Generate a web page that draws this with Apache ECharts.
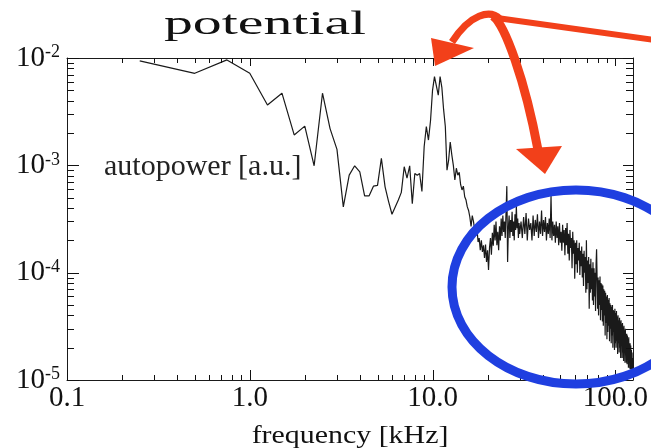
<!DOCTYPE html>
<html><head><meta charset="utf-8">
<script src="https://cdn.jsdelivr.net/npm/echarts/dist/echarts.min.js"></script>
<style>html,body{margin:0;padding:0;background:#fff}#c{width:651px;height:448px}</style>
</head><body><div id="c"></div>
<script>
// frequency [kHz] and autopower [a.u.]
const freqA = [0.25,0.5,0.75,1.0,1.25,1.5,1.75,2.0,2.25,2.5,2.75,3.0,3.25,3.5,3.75,4.0,4.25,4.5,4.75,5.0,
  5.25,5.5,5.75,6.0,6.25,6.5,6.75,7.0,7.25,7.5,7.75,8.0,8.25,8.5,8.75,9.0,9.25,9.5,9.75,10.0];
const powerA = [9.4e-3,7.2e-3,9.6e-3,7.2e-3,3.65e-3,4.7e-3,1.92e-3,2.32e-3,9.9e-4,4.7e-3,2.2e-3,1.41e-3,4.1e-4,8.1e-4,9.9e-4,8.7e-4,5.2e-4,5.2e-4,6.4e-4,6.5e-4,
  1.16e-3,6.3e-4,4.6e-4,3.5e-4,4.1e-4,4.75e-4,5.6e-4,9.7e-4,7.6e-4,9.9e-4,4.4e-4,8.4e-4,8.1e-4,8.4e-4,5.7e-4,1.49e-3,2.3e-3,1.72e-3,2.6e-3,5.0e-3];
const freqB = [10.25,10.5,10.75,11.0,11.25,11.5,11.75,12.0,12.25,12.5,12.75,13.0,13.25,13.5,13.75,14.0,14.25,14.5,14.75,15.0,
  15.25,15.5,15.75,16.0,16.25,16.5,16.75,17.0,17.25,17.5,17.75,18.0,18.25,18.5,18.75,19.0,19.25,19.5,19.75,20.0,
  20.25,20.5,20.75,21.0,21.25,21.5,21.75,22.0,22.25,22.5,22.75,23.0,23.25,23.5,23.75,24.0,24.25,24.5,24.75,25.0,
  25.25,25.5,25.75,26.0,26.25,26.5,26.75,27.0,27.25,27.5,27.75,28.0,28.25,28.5,28.75,29.0,29.25,29.5,29.75,30.0];
const powerB = [6.7e-3,6.9e-3,4.5e-3,6.7e-3,5.3e-3,3.3e-3,2.3e-3,9.0e-4,1.12e-3,1.65e-3,1.25e-3,1.0e-3,7.3e-4,9.4e-4,8.1e-4,8.6e-4,6.6e-4,5.9e-4,6.4e-4,5.1e-4,
  4.75e-4,4.1e-4,3.8e-4,3.3e-4,2.7e-4,3.4e-4,3.0e-4,2.5e-4,2.2e-4,2.6e-4,1.93e-4,2.1e-4,1.62e-4,2.0e-4,1.56e-4,1.8e-4,1.37e-4,1.83e-4,1.26e-4,1.62e-4,
  1.06e-4,1.7e-4,2.1e-4,1.47e-4,2.35e-4,1.78e-4,2.8e-4,2.0e-4,3.0e-4,1.8e-4,2.4e-4,1.62e-4,2.7e-4,2.0e-4,3.2e-4,2.2e-4,3.4e-4,2.4e-4,3.0e-4,2.1e-4,
  3.7e-4,6.4e-4,1.26e-4,2.6e-4,3.4e-4,2.1e-4,3.1e-4,2.4e-4,3.7e-4,2.2e-4,3.0e-4,2.0e-4,3.5e-4,2.5e-4,4.2e-4,2.6e-4,3.2e-4,2.1e-4,2.9e-4,2.3e-4];
const freqC = [30.5,31,31.5,32,32.5,33,33.5,34,34.5,35,35.5,36,36.5,37,37.5,38,38.5,39,39.5,40,
  40.5,41,41.5,42,42.5,43,43.5,44,44.5,45,45.5,46,46.5,47,47.5,48,48.5,49,49.5,50];
const powerC = [3.0e-4,2.1e-4,3.3e-4,2.3e-4,3.6e-4,2.0e-4,3.2e-4,2.5e-4,2.9e-4,2.0e-4,3.4e-4,2.2e-4,3.1e-4,2.4e-4,3.5e-4,2.1e-4,3.0e-4,2.3e-4,3.8e-4,2.2e-4,
  3.1e-4,2.4e-4,3.3e-4,2.0e-4,2.9e-4,2.3e-4,3.2e-4,2.1e-4,5.2e-4,2.0e-4,3.0e-4,2.2e-4,2.8e-4,1.9e-4,3.0e-4,2.1e-4,2.7e-4,1.8e-4,2.9e-4,1.9e-4];
const freqD = [50.5,51,51.5,52,52.5,53,53.5,54,54.5,55, 55.5,56,56.5,57,57.5,58,58.5,59,59.5,60,
  60.5,61,61.5,62,62.5,63,63.5,64,64.5,65, 65.5,66,66.5,67,67.5,68,68.5,69,69.5,70,
  70.5,71,71.5,72,72.5,73,73.5,74,74.5,75, 75.5,76,76.5,77,77.5,78,78.5,79,79.5,80,
  80.5,81,81.5,82,82.5,83,83.5,84,84.5,85, 85.5,86,86.5,87,87.5,88,88.5,89,89.5,90,
  90.5,91,91.5,92,92.5,93,93.5,94,94.5,95, 95.5,96,96.5,97,97.5,98,98.5,99,99.5,100,
  100.5,101,101.5,102,102.5,103,103.5,104,104.5,105, 105.5,106,106.5,107,107.5,108,108.5,109,109.5,110,
  110.5,111,111.5,112,112.5,113,113.5,114,114.5,115, 115.5,116,116.5,117,117.5,118,118.5,119,119.5,120,
  120.5,121,121.5,122,122.5,123,123.5,124,124.5,125];
const powerD = [2.4e-4,1.6e-4,2.8e-4,1.9e-4,2.5e-4,1.45e-4,2.6e-4,1.8e-4,2.9e-4,1.5e-4, 2.3e-4,1.3e-4,2.5e-4,1.7e-4,2.1e-4,1.1e-4,2.4e-4,1.5e-4,2.0e-4,8.8e-5,
  1.9e-4,1.2e-4,2.0e-4,1.0e-4,1.7e-4,1.3e-4,1.9e-4,9.5e-5,1.6e-4,1.15e-4, 1.75e-4,9.0e-5,1.5e-4,7.5e-5,1.6e-4,1.0e-4,1.4e-4,6.5e-5,2.0e-4,7.0e-5,
  1.3e-4,8.0e-5,1.4e-4,4.6e-5,1.2e-4,6.5e-5,1.35e-4,7.0e-5,1.1e-4,5.5e-5, 1.25e-4,5.0e-5,1.1e-4,6.0e-5,1.0e-4,4.4e-5,1.2e-4,1.65e-4,9.0e-5,4.6e-5,
  9.0e-5,4.0e-5,8.5e-5,5.0e-5,9.2e-5,3.6e-5,8.0e-5,4.5e-5,7.8e-5,3.5e-5, 7.6e-5,3.2e-5,7.0e-5,4.0e-5,6.8e-5,2.6e-5,6.5e-5,3.4e-5,6.0e-5,2.4e-5,
  6.2e-5,2.8e-5,5.6e-5,3.2e-5,5.8e-5,2.3e-5,5.2e-5,3.0e-5,5.0e-5,2.2e-5, 4.8e-5,2.6e-5,5.0e-5,2.0e-5,4.5e-5,2.8e-5,4.4e-5,1.9e-5,4.6e-5,2.2e-5,
  4.2e-5,2.0e-5,4.4e-5,2.3e-5,3.9e-5,1.75e-5,4.0e-5,2.2e-5,3.6e-5,1.8e-5, 3.8e-5,2.0e-5,3.5e-5,1.6e-5,3.6e-5,2.1e-5,3.3e-5,1.6e-5,3.4e-5,1.8e-5,
  3.1e-5,1.5e-5,3.2e-5,1.8e-5,2.9e-5,1.45e-5,3.0e-5,1.7e-5,2.7e-5,1.45e-5, 2.7e-5,1.4e-5,2.6e-5,1.55e-5,2.4e-5,1.3e-5,2.5e-5,1.45e-5,2.2e-5,1.28e-5,
  2.2e-5,1.25e-5,2.1e-5,1.35e-5,1.9e-5,1.2e-5,1.8e-5,1.15e-5,1.6e-5,1.25e-5];

// axis ranges and tick values
const xMin = 0.1, xMax = 125, yMin = 1e-5, yMax = 1e-2;
const xMajorTicks = [0.1, 1, 10, 100];
const yMajorTicks = [1e-5, 1e-4, 1e-3, 1e-2];
const xMinorTicks = [0.2,0.3,0.4,0.5,0.6,0.7,0.8,0.9,2,3,4,5,6,7,8,9,20,30,40,50,60,70,80,90];
const yMinorTicks = [2e-5,3e-5,4e-5,5e-5,6e-5,7e-5,8e-5,9e-5,2e-4,3e-4,4e-4,5e-4,6e-4,7e-4,8e-4,9e-4,2e-3,3e-3,4e-3,5e-3,6e-3,7e-3,8e-3,9e-3];

const freq = freqA.concat(freqB, freqC, freqD);
const power = powerA.concat(powerB, powerC, powerD);
const lineData = freq.map((f, i) => [f, power[i]]);

const FONT = '"Liberation Serif", "Times New Roman", serif';
const INK = '#1a1a1a';
const RED = '#f2401a';

function isDecade(v) { const e = Math.log10(v); return Math.abs(e - Math.round(e)) < 1e-6; }

const annotations = [
  {type: 'text', x: 265, y: 25, scaleX: 1.7, z: 100,
    style: {text: 'potential', fontFamily: FONT, fontSize: 34, fill: '#111', align: 'center', verticalAlign: 'middle', textAlign: 'center', textVerticalAlign: 'middle'}},
  {type: 'text', x: 104, y: 167, z: 100,
    style: {text: 'autopower [a.u.]', fontFamily: FONT, fontSize: 30, fill: '#222', align: 'left', verticalAlign: 'middle', textAlign: 'left', textVerticalAlign: 'middle'}},
  {type: 'text', x: 350, y: 436, scaleX: 1.15, z: 100,
    style: {text: 'frequency [kHz]', fontFamily: FONT, fontSize: 26, fill: '#111', align: 'center', verticalAlign: 'middle', textAlign: 'center', textVerticalAlign: 'middle'}},
  {type: 'ellipse', z: 100, shape: {cx: 576, cy: 287, rx: 124, ry: 97},
    style: {fill: 'none', stroke: '#1f3fe0', lineWidth: 9}},
  {type: 'polyline', z: 101, shape: {points: [[655, 40], [497, 18]]},
    style: {stroke: RED, lineWidth: 6, fill: 'none'}},
  {type: 'bezierCurve', z: 101, shape: {x1: 500, y1: 19, cpx1: 490, cpy1: 9, cpx2: 470, cpy2: 14, x2: 452, y2: 42},
    style: {stroke: RED, lineWidth: 7, fill: 'none'}},
  {type: 'bezierCurve', z: 101, shape: {x1: 493, y1: 16, cpx1: 505, cpy1: 25, cpx2: 525, cpy2: 80, x2: 538, y2: 150},
    style: {stroke: RED, lineWidth: 9, fill: 'none'}},
  {type: 'polygon', z: 101, shape: {points: [[431, 38], [474, 48], [435, 66]]}, style: {fill: RED}},
  {type: 'polygon', z: 101, shape: {points: [[516, 149], [562, 146], [545, 174]]}, style: {fill: RED}}
];

const chart = echarts.init(document.getElementById('c'), null, {renderer: 'canvas'});
chart.setOption({
  animation: false,
  backgroundColor: '#fff',
  grid: {left: 67, right: 18, top: 58, bottom: 68, show: false, containLabel: false, outerBoundsMode: 'none'},
  xAxis: [{
    type: 'log', logBase: 10, min: xMin, max: xMax, position: 'bottom',
    axisLine: {show: true, lineStyle: {color: INK, width: 1}},
    axisTick: {show: false},
    axisLabel: {margin: 4, fontFamily: FONT, fontSize: 29, color: '#111',
      formatter: v => isDecade(v) ? Number(v).toFixed(1) : ''},
    splitLine: {show: false}
  }, {
    type: 'log', logBase: 10, min: xMin, max: xMax, position: 'top',
    axisLine: {show: true, lineStyle: {color: INK, width: 1}},
    axisTick: {show: false}, axisLabel: {show: false}, splitLine: {show: false}
  }],
  yAxis: [{
    type: 'log', logBase: 10, min: yMin, max: yMax, position: 'left',
    axisLine: {show: true, lineStyle: {color: INK, width: 1}},
    axisTick: {show: false},
    axisLabel: {margin: 7, color: '#111',
      formatter: v => '{b|10}{s|' + Math.round(Math.log10(v)) + '}',
      rich: {
        b: {fontFamily: FONT, fontSize: 29, color: '#111', verticalAlign: 'bottom'},
        s: {fontFamily: FONT, fontSize: 18, color: '#111', verticalAlign: 'top', padding: [0, 0, 6, 0]}
      }},
    splitLine: {show: false}
  }, {
    type: 'log', logBase: 10, min: yMin, max: yMax, position: 'right',
    axisLine: {show: true, lineStyle: {color: INK, width: 1}},
    axisTick: {show: false}, axisLabel: {show: false}, splitLine: {show: false}
  }],
  series: [{
    type: 'line', data: lineData, showSymbol: false, symbol: 'none',
    lineStyle: {color: INK, width: 1.2}, z: 3
  }],
  graphic: annotations
});

// tick marks on all four sides, positioned through the axes' own scales
function px(x, y) { return chart.convertToPixel({seriesIndex: 0}, [x, y]); }
const tickEls = [];
function tickRect(x, y, w, h) {
  tickEls.push({type: 'rect', z: 60, silent: true, shape: {x, y, width: w, height: h}, style: {fill: '#111'}});
}
function xTicks(list, lenBottom, lenTop) {
  list.forEach(v => {
    const b = px(v, yMin), t = px(v, yMax);
    const x = Math.round(b[0]);
    tickRect(x, b[1] - lenBottom, 1, lenBottom);
    tickRect(x, t[1], 1, lenTop);
  });
}
function yTicks(list, lenLeft, lenRight) {
  list.forEach(v => {
    const l = px(xMin, v), r = px(xMax, v);
    const y = Math.round(l[1]);
    tickRect(Math.round(l[0]), y, lenLeft, 1);
    tickRect(Math.round(r[0]) - lenRight, y, lenRight, 1);
  });
}
xTicks(xMajorTicks, 10, 8);
xTicks(xMinorTicks, 5, 5);
yTicks(yMajorTicks, 12, 10);
yTicks(yMinorTicks, 7, 7);
chart.setOption({graphic: annotations.concat(tickEls)});
</script></body></html>
